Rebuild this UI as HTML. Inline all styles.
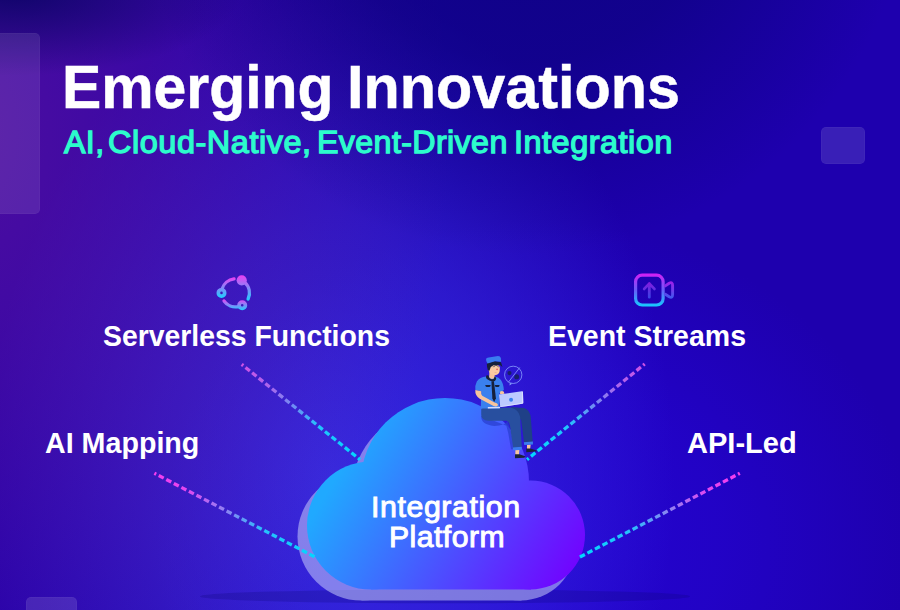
<!DOCTYPE html>
<html>
<head>
<meta charset="utf-8">
<style>
html,body{margin:0;padding:0;}
body{width:900px;height:610px;overflow:hidden;position:relative;background:#1e00aa;font-family:"Liberation Sans",sans-serif;}
#bg{position:absolute;left:0;top:0;width:900px;height:610px;
background:
 radial-gradient(ellipse 228px 84px at 14px -8px, rgba(6,3,96,0.84) 0%, rgba(6,3,96,0.431) 50%, rgba(6,3,96,0) 100%),
 radial-gradient(ellipse 389px 386px at 523px -131px, rgba(6,3,110,0.641) 0%, rgba(6,3,110,0.509) 50%, rgba(6,3,110,0) 100%),
 radial-gradient(ellipse 491px 687px at -41px 132px, rgba(108,22,150,0.606) 0%, rgba(108,22,150,0.313) 50%, rgba(108,22,150,0) 100%),
 radial-gradient(ellipse 345px 493px at 330px 480px, rgba(60,54,232,0.785) 0%, rgba(60,54,232,0.447) 50%, rgba(60,54,232,0) 100%),
 radial-gradient(ellipse 379px 323px at 535px 544px, rgba(36,4,210,0.996) 0%, rgba(36,4,210,0.652) 50%, rgba(36,4,210,0) 100%),
 #1e00ae;}
.deco{position:absolute;background:rgba(255,255,255,0.12);border-radius:5px;box-shadow:inset 0 0 0 1px rgba(255,255,255,0.03);}
.tt{-webkit-text-stroke:0.5px #fff;}
.t{position:absolute;white-space:nowrap;color:#fff;font-weight:bold;line-height:1;transform-origin:0 0;}
.sb{color:#2cfccc;font-weight:normal;-webkit-text-stroke:1.3px #2cfccc;}
.ct{font-weight:normal;-webkit-text-stroke:0.95px #fff;}
</style>
</head>
<body>
<div id="bg"></div>
<div class="deco" style="left:-10px;top:33px;width:50px;height:181px;background:rgba(255,255,255,0.10);"></div>
<div class="deco" style="left:821px;top:127px;width:44px;height:37px;"></div>
<div class="deco" style="left:26px;top:597px;width:51px;height:30px;"></div>

<div class="t tt" id="t1" style="left:62.28px;top:55.74px;font-size:61.6px;transform:scaleX(0.9557);">Emerging</div>
<div class="t tt" id="t2" style="left:346.95px;top:55.74px;font-size:61.6px;transform:scaleX(0.9633);">Innovations</div>
<div class="t sb" id="s1" style="left:63.90px;top:127.06px;font-size:31.7px;letter-spacing:0.402px;transform:scaleX(1.0151);">AI,</div>
<div class="t sb" id="s2" style="left:107.98px;top:127.06px;font-size:31.7px;letter-spacing:0.539px;transform:scaleX(1.0235);">Cloud-Native,</div>
<div class="t sb" id="s3" style="left:316.67px;top:127.06px;font-size:31.7px;letter-spacing:0.380px;transform:scaleX(1.0158);">Event-Driven</div>
<div class="t sb" id="s4" style="left:514.35px;top:127.06px;font-size:31.7px;letter-spacing:0.503px;transform:scaleX(1.0235);">Integration</div>
<div class="t" id="l1" style="left:103.20px;top:320.84px;font-size:29.6px;transform:scaleX(0.9585);">Serverless Functions</div>
<div class="t" id="l2" style="left:547.54px;top:320.84px;font-size:29.6px;transform:scaleX(0.9630);">Event Streams</div>
<div class="t" id="l3" style="left:44.90px;top:427.94px;font-size:29.6px;transform:scaleX(0.9679);">AI Mapping</div>
<div class="t" id="l4" style="left:687.00px;top:427.94px;font-size:29.6px;transform:scaleX(0.9817);">API-Led</div>

<svg id="art" width="900" height="610" viewBox="0 0 900 610" style="position:absolute;left:0;top:0;">
 <defs>
  <linearGradient id="cg" gradientUnits="userSpaceOnUse" x1="457.4" y1="274.4" x2="678.7" y2="407.2">
   <stop offset="0" stop-color="#20a9ff"/>
   <stop offset="1" stop-color="#7300ff"/>
  </linearGradient>
  <linearGradient id="d1" gradientUnits="userSpaceOnUse" x1="242" y1="364" x2="360" y2="460">
   <stop offset="0" stop-color="#d050e6"/><stop offset="0.25" stop-color="#a868ec"/><stop offset="0.45" stop-color="#6a90f4"/><stop offset="0.65" stop-color="#22c4fc"/><stop offset="1" stop-color="#00d8ff"/>
  </linearGradient>
  <linearGradient id="d2" gradientUnits="userSpaceOnUse" x1="645" y1="364" x2="527" y2="460">
   <stop offset="0" stop-color="#d050e6"/><stop offset="0.25" stop-color="#a868ec"/><stop offset="0.45" stop-color="#6a90f4"/><stop offset="0.65" stop-color="#22c4fc"/><stop offset="1" stop-color="#00d8ff"/>
  </linearGradient>
  <linearGradient id="d3" gradientUnits="userSpaceOnUse" x1="154" y1="473" x2="315" y2="557">
   <stop offset="0" stop-color="#f63cf0"/><stop offset="0.2" stop-color="#e446f0"/><stop offset="0.45" stop-color="#8c84f2"/><stop offset="0.68" stop-color="#28c0fc"/><stop offset="1" stop-color="#00d8ff"/>
  </linearGradient>
  <linearGradient id="d4" gradientUnits="userSpaceOnUse" x1="740" y1="473" x2="580" y2="557">
   <stop offset="0" stop-color="#f63cf0"/><stop offset="0.2" stop-color="#e446f0"/><stop offset="0.45" stop-color="#8c84f2"/><stop offset="0.68" stop-color="#28c0fc"/><stop offset="1" stop-color="#00d8ff"/>
  </linearGradient>
  <linearGradient id="ig" x1="0" y1="0" x2="0" y2="1">
   <stop offset="0" stop-color="#e83cf4"/><stop offset="1" stop-color="#18d4ff"/>
  </linearGradient>
  <g id="cloud">
   <circle cx="445" cy="482" r="84"/>
   <circle cx="371" cy="525.5" r="64"/>
   <circle cx="530.5" cy="535" r="54.5"/>
   <rect x="371" y="520" width="160" height="69.5"/>
  </g>
 </defs>
 <!-- floor shadow -->
 <ellipse cx="445" cy="596.4" rx="245" ry="6.9" fill="#0a056e" opacity="0.22"/>
 <!-- shadow cloud -->
 <use href="#cloud" transform="translate(-9.5,11)" fill="#d3daff" opacity="0.5"/>
 <!-- main cloud -->
 <use href="#cloud" fill="url(#cg)"/>

 <!-- person -->
 <g id="person">
  <g transform="translate(465 400) scale(0.09843)">
   <!-- seat shadow on cloud -->
   <path d="M165,160 Q158,252 295,263 Q405,264 432,214 L470,330 L500,500 L468,500 L440,340 L420,262 Z" fill="#2a3fd0" opacity="0.75"/>
   <!-- back leg -->
   <path d="M470,70 L600,82 Q655,100 668,170 L688,428 L600,432 L570,200 L470,150 Z" fill="#1f4087"/>
   <!-- front leg -->
   <path d="M165,95 Q165,82 200,80 L470,80 Q545,100 560,170 L577,482 L490,487 L462,300 Q455,215 420,212 L240,212 Q165,205 165,150 Z" fill="#284f9f"/>
   <!-- cuffs -->
   <path d="M486,482 L577,476 L577,506 L490,512 Z" fill="#3a7bef"/>
   <path d="M598,428 L690,422 L690,452 L602,458 Z" fill="#3a7bef"/>
   <!-- ankles -->
   <path d="M512,510 L552,508 L548,558 L512,558 Z" fill="#f7c49c"/>
   <path d="M630,456 L667,454 L662,498 L630,498 Z" fill="#f7c49c"/>
   <!-- shoes -->
   <path d="M508,552 L552,550 L612,572 Q618,582 600,586 L508,592 Z" fill="#1b2238"/>
   <path d="M622,494 L664,492 L728,512 Q734,522 716,524 L622,530 Z" fill="#1b2238"/>
  </g>
  <g transform="translate(465 352) scale(0.09843)">
   <!-- shirt torso -->
   <path d="M215,250 Q150,255 120,300 Q100,340 105,385 L165,400 L160,575 L350,575 L350,420 L395,385 Q390,320 365,285 Q345,258 305,250 Z" fill="#3a80ee"/>
   <!-- neck -->
   <path d="M248,200 L300,215 L302,262 Q275,285 245,262 Z" fill="#f7c49c"/>
   <!-- collar -->
   <path d="M222,236 Q205,250 222,275 Q250,300 290,300 Q320,290 316,262 L300,248 Q300,275 275,278 Q245,275 240,240 Z" fill="#16203a"/>
   <!-- tie -->
   <path d="M268,296 L294,296 L314,470 L296,508 L278,472 Z" fill="#16203a"/>
   <!-- pockets -->
   <path d="M205,336 L262,336 L255,352 Q232,360 212,352 Z" fill="#16203a"/>
   <path d="M302,336 L352,336 L346,352 Q326,360 308,352 Z" fill="#16203a"/>
   <!-- face -->
   <path d="M238,150 Q236,128 300,126 Q352,128 354,160 L352,195 Q345,228 305,236 Q262,232 248,205 Q236,185 238,150 Z" fill="#f9caa2"/>
   <circle cx="326" cy="176" r="9" fill="#f0605a"/>
   <!-- hair -->
   <path d="M222,118 L300,92 L366,104 L380,152 L352,130 L318,140 L290,134 L262,152 L248,190 L232,186 L224,150 Z" fill="#16203a"/>
   <path d="M282,150 L304,147 M328,147 L346,152" stroke="#16203a" stroke-width="5" fill="none"/>
   <path d="M300,208 L322,210" stroke="#d98a70" stroke-width="4" fill="none"/>
   <!-- hat -->
   <path d="M214,72 Q215,60 240,56 L335,40 Q360,40 364,60 L367,100 L305,94 L228,116 Q212,100 214,72 Z" fill="#3a7cf0"/>
   <!-- left arm -->
   <path d="M105,385 Q100,440 150,475 L290,548 Q320,560 335,540 Q335,520 300,512 L175,445 Q160,425 165,400 Z" fill="#f7c49c"/>
   <!-- right hand -->
   <path d="M356,405 Q375,385 395,405 L400,425 L356,430 Z" fill="#f7c49c"/>
   <!-- laptop -->
   <path d="M232,560 L356,556 L356,572 L232,574 Z" fill="#d5dcff"/>
   <path d="M345,432 L578,398 Q588,398 589,408 L592,515 Q592,524 582,526 L358,560 Z" fill="#bcc9ff"/>
   <path d="M578,398 Q588,398 589,408 L592,515 Q592,524 582,526 L358,560 L358,550 L578,516 Z" fill="#dfe5ff" opacity="0.8"/>
   <circle cx="468" cy="486" r="20" fill="#3a80f0"/>
   <!-- speech bubble -->
   <circle cx="490" cy="232" r="88" fill="none" stroke="#8aa2ff" stroke-width="8"/>
   <path d="M440,308 L556,158" stroke="#8aa2ff" stroke-width="8" fill="none"/>
   <path d="M455,314 L452,340 L478,322 Z" fill="#8aa2ff"/>
   <circle cx="452" cy="214" r="21" fill="#18206a"/>
   <path d="M500,262 Q500,225 527,225 Q552,225 550,262 L540,278 L510,278 Z" fill="#18206a"/>
  </g>
 </g>

 <!-- icon 1 -->
 <defs>
  <linearGradient id="ia" gradientUnits="userSpaceOnUse" x1="0" y1="277" x2="0" y2="298"><stop offset="0" stop-color="#ee3cf2"/><stop offset="1" stop-color="#1cd2ff"/></linearGradient>
  <linearGradient id="ib" gradientUnits="userSpaceOnUse" x1="0" y1="275" x2="0" y2="301"><stop offset="0" stop-color="#ee3cf2"/><stop offset="1" stop-color="#1cd2ff"/></linearGradient>
  <linearGradient id="ic" gradientUnits="userSpaceOnUse" x1="0" y1="299" x2="0" y2="310.5"><stop offset="0" stop-color="#ee3cf2"/><stop offset="1" stop-color="#1cd2ff"/></linearGradient>
  <linearGradient id="ie" gradientUnits="userSpaceOnUse" x1="0" y1="273" x2="0" y2="306.5"><stop offset="0" stop-color="#d81cf4"/><stop offset="0.5" stop-color="#6a5cf8"/><stop offset="1" stop-color="#14ccff"/></linearGradient>
  <linearGradient id="if" gradientUnits="userSpaceOnUse" x1="0" y1="281" x2="0" y2="299"><stop offset="0" stop-color="#a61ce8"/><stop offset="1" stop-color="#3a5cf0"/></linearGradient>
 </defs>
 <g fill="none" stroke-width="3.3" stroke-linecap="round">
  <path d="M222.04,289.04 A14.0,14.0 0 0 1 234.04,278.98" stroke="url(#ia)"/>
  <circle cx="221.50" cy="292.90" r="3.15" stroke="url(#ia)" stroke-width="3.7"/>
  <path d="M244.50,282.18 A14.0,14.0 0 0 1 248.08,299.04" stroke="url(#ib)"/>
  <circle cx="241.72" cy="280.36" r="5.1" fill="url(#ib)" stroke="none"/>
  <path d="M238.41,306.59 A14.0,14.0 0 0 1 224.03,300.93" stroke="url(#ic)"/>
  <circle cx="242.22" cy="305.18" r="3.15" stroke="url(#ic)" stroke-width="3.7"/>
 </g>
 <!-- icon 2 -->
 <g fill="none" stroke-linecap="round" stroke-linejoin="round">
  <rect x="635.6" y="275.2" width="27.5" height="29.8" rx="6.6" stroke="url(#ie)" stroke-width="3.2"/>
  <path d="M665.3,285.9 L669.2,283.3 Q672.6,281.4 672.6,285.4 L672.6,294.6 Q672.6,298.6 669.2,296.7 L665.3,294.3" stroke="url(#if)" stroke-width="2.9"/>
  <path d="M649.3,297.2 L649.3,283.6 M644.2,288.9 L649.3,283.6 L654.4,288.9" stroke="url(#if)" stroke-width="2.8" opacity="0.8"/>
 </g>
 <!-- dashed lines -->
 <g fill="none" stroke-width="3.3" stroke-dasharray="5.6 2.9" stroke-dashoffset="3.6">
  <line x1="241.7" y1="364.4" x2="360" y2="459.6" stroke="url(#d1)"/>
  <line x1="644.7" y1="364" x2="527" y2="459.6" stroke="url(#d2)"/>
  <line x1="154.4" y1="473.3" x2="315.2" y2="557.1" stroke="url(#d3)"/>
  <line x1="739.8" y1="473.3" x2="579.8" y2="557.1" stroke="url(#d4)"/>
 </g>
</svg>

<div class="t ct" id="c1" style="left:371.24px;top:491.82px;font-size:29.5px;letter-spacing:0.560px;transform:scaleX(1.0282);">Integration</div>
<div class="t ct" id="c2" style="left:388.96px;top:522.02px;font-size:29.5px;letter-spacing:0.473px;transform:scaleX(1.0212);">Platform</div>
</body>
</html>
